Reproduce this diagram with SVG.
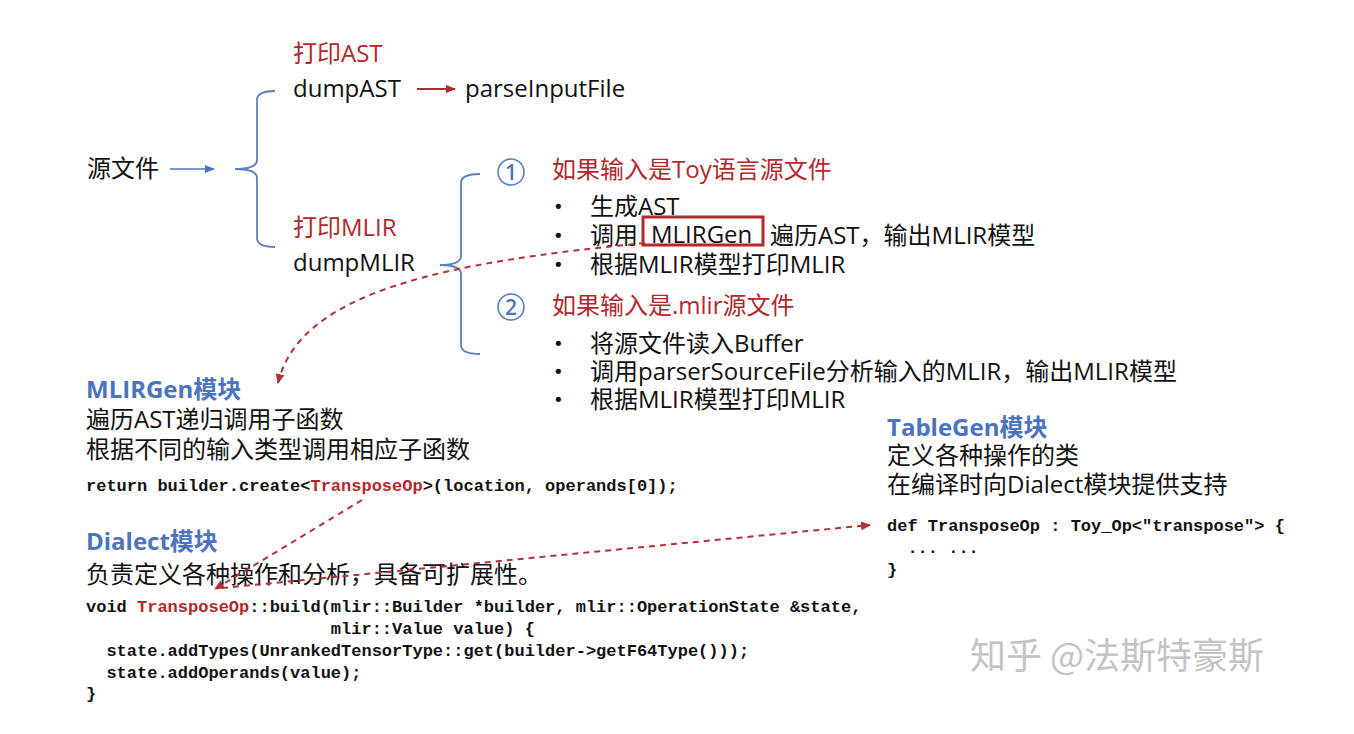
<svg xmlns="http://www.w3.org/2000/svg" width="1354" height="734" viewBox="0 0 1354 734">
<style>
.t{font-family:"Open Sans","Noto Sans CJK SC",sans-serif;font-size:24px;fill:#111}
.b{font-family:"DejaVu Sans",sans-serif;font-size:18px;fill:#111}
.r{fill:#b3272d}
.h{font-family:"Open Sans","Noto Sans CJK SC",sans-serif;font-size:24px;font-weight:bold;fill:#4a74c0}
.c{font-family:"Liberation Mono",monospace;font-size:17px;font-weight:bold;fill:#111;white-space:pre}
.cr{fill:#b3272d}
.br{fill:none;stroke:#5b7fc4;stroke-width:1.8}
.num{font-family:"Open Sans",sans-serif;font-size:21px;font-weight:600;fill:#4a74c0;text-anchor:middle}
.dash{fill:none;stroke:#b3323a;stroke-width:2;stroke-dasharray:6 5}
.wm{font-family:"Noto Sans CJK SC",sans-serif;font-size:36px;fill:#c4c4c4}
</style>
<defs>
<marker id="ab" markerWidth="10" markerHeight="8" refX="9" refY="4" orient="auto" markerUnits="userSpaceOnUse"><path d="M0,0 L10,4 L0,8 z" fill="#4a74c0"/></marker>
<marker id="ar" markerWidth="10" markerHeight="8" refX="9" refY="4" orient="auto" markerUnits="userSpaceOnUse"><path d="M0,0 L10,4 L0,8 z" fill="#b3272d"/></marker>
<marker id="ad" markerWidth="10" markerHeight="9" refX="9" refY="4.5" orient="auto" markerUnits="userSpaceOnUse"><path d="M0,0 L10,4.5 L0,9 z" fill="#b3323a"/></marker>
</defs>
<rect width="1354" height="734" fill="#fff"/>

<g id="source"><text class="t" x="87" y="177">源文件</text></g>

<g id="dumpAST">
<text class="t r" x="293" y="62">打印AST</text>
<text class="t" x="293" y="97">dumpAST</text>
</g>
<g id="parseInputFile"><text class="t" x="465" y="97">parseInputFile</text></g>

<g id="dumpMLIR">
<text class="t r" x="293" y="236">打印MLIR</text>
<text class="t" x="293" y="271">dumpMLIR</text>
</g>

<g id="case1">
<circle cx="511" cy="172" r="13" fill="none" stroke="#5b7fc4" stroke-width="1.6"/>
<text class="num" x="511" y="179.5">1</text>
<text class="t r" x="552" y="178">如果输入是Toy语言源文件</text>
<text class="b" x="553" y="213">•</text><text class="t" x="590" y="215">生成AST</text>
<text class="b" x="553" y="242">•</text><text class="t" x="590" y="244">调用</text>
<rect x="643" y="217" width="120" height="28" fill="none" stroke="#b3272d" stroke-width="3"/>
<text class="t" x="651" y="243">MLIRGen</text>
<text class="t" x="770" y="244">遍历AST，输出MLIR模型</text>
<text class="b" x="553" y="271">•</text><text class="t" x="590" y="273">根据MLIR模型打印MLIR</text>
</g>

<g id="case2">
<circle cx="511" cy="307" r="13" fill="none" stroke="#5b7fc4" stroke-width="1.6"/>
<text class="num" x="511" y="314.5">2</text>
<text class="t r" x="552" y="314">如果输入是.mlir源文件</text>
<text class="b" x="553" y="350">•</text><text class="t" x="590" y="352">将源文件读入Buffer</text>
<text class="b" x="553" y="378">•</text><text class="t" x="590" y="380">调用parserSourceFile分析输入的MLIR，输出MLIR模型</text>
<text class="b" x="553" y="406">•</text><text class="t" x="590" y="408">根据MLIR模型打印MLIR</text>
</g>

<g id="mlirgen">
<text class="h" x="86" y="398">MLIRGen模块</text>
<text class="t" x="86" y="428">遍历AST递归调用子函数</text>
<text class="t" x="86" y="458">根据不同的输入类型调用相应子函数</text>
<text class="c" x="86" y="491">return builder.create&lt;<tspan class="cr">TransposeOp</tspan>&gt;(location, operands[0]);</text>
</g>

<g id="dialect">
<text class="h" x="86" y="550">Dialect模块</text>
<text class="t" x="86" y="583">负责定义各种操作和分析，具备可扩展性。</text>
<text class="c" x="86" y="612">void <tspan class="cr">TransposeOp</tspan>::build(mlir::Builder *builder, mlir::OperationState &amp;state,</text>
<text class="c" x="86" y="634">                        mlir::Value value) {</text>
<text class="c" x="86" y="656">  state.addTypes(UnrankedTensorType::get(builder-&gt;getF64Type()));</text>
<text class="c" x="86" y="678">  state.addOperands(value);</text>
<text class="c" x="86" y="699">}</text>
</g>

<g id="tablegen">
<text class="h" x="887" y="436">TableGen模块</text>
<text class="t" x="887" y="464">定义各种操作的类</text>
<text class="t" x="887" y="493">在编译时向Dialect模块提供支持</text>
<text class="c" x="887" y="531">def TransposeOp : Toy_Op&lt;"transpose"&gt; {</text>
<text class="c" x="887" y="553">  ... ...</text>
<text class="c" x="887" y="575">}</text>
</g>

<g id="watermark"><text class="wm" x="970" y="669">知乎 @法斯特豪斯</text></g>

<g id="connectors">
<path d="M170 169 L214 169" stroke="#4a74c0" stroke-width="1.6" fill="none" marker-end="url(#ab)"/>
<path d="M417 89 L455 89" stroke="#b3272d" stroke-width="1.8" fill="none" marker-end="url(#ar)"/>
<path class="br" d="M275 91 Q257 91 257 100 L257 160 Q257 169 235 169 Q257 169 257 178 L257 238 Q257 247 275 247"/>
<path class="br" d="M480 174 Q461 174 461 183 L461 256 Q461 265 440 265 Q461 265 461 274 L461 345 Q461 354 480 354"/>
<path class="dash" d="M645 243 C450 262 300 290 278 383" marker-end="url(#ad)"/>
<path class="dash" d="M362 500 L215 589" marker-end="url(#ad)"/>
<path class="dash" d="M222 588 L870 525" marker-end="url(#ad)"/>
</g>
</svg>
